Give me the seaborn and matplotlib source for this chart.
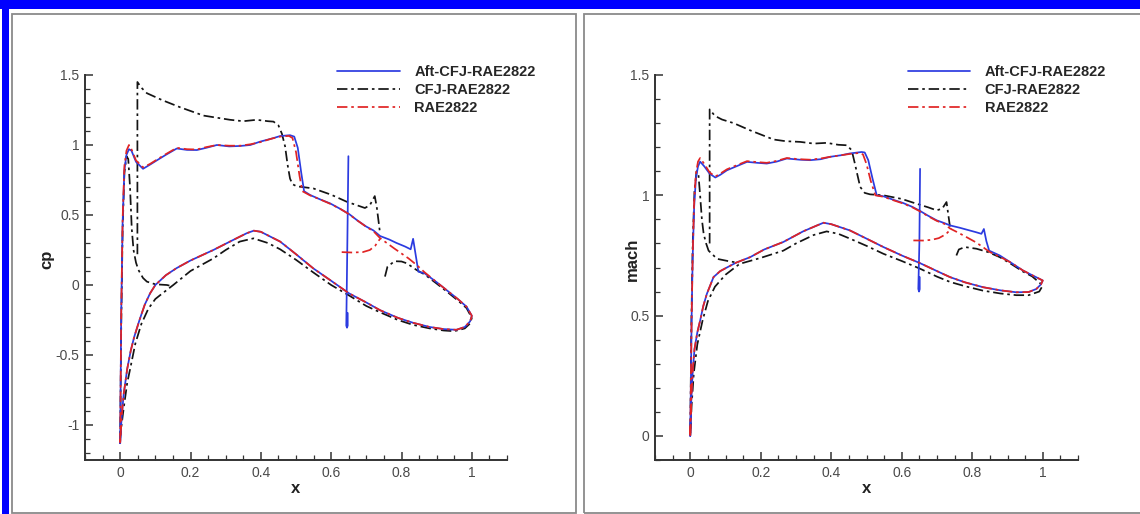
import matplotlib
matplotlib.use("Agg")
import matplotlib.pyplot as plt
from matplotlib.patches import Rectangle
from matplotlib.ticker import MultipleLocator, FuncFormatter
import pandas as pd
import seaborn as sns

sns.set_theme(style="white")
plt.rcParams["font.family"] = ["Liberation Sans", "DejaVu Sans"]
plt.rcParams["axes.unicode_minus"] = False

SERIES = ["Aft-CFJ-RAE2822", "CFJ-RAE2822", "RAE2822"]
DRAW_ORDER = ["CFJ-RAE2822", "Aft-CFJ-RAE2822", "RAE2822"]
PALETTE = {"Aft-CFJ-RAE2822": "#2b3be0", "CFJ-RAE2822": "#141414", "RAE2822": "#e02424"}
DASHES = {"Aft-CFJ-RAE2822": "", "CFJ-RAE2822": (6, 2.2, 1.5, 2.2), "RAE2822": (6, 2.2, 1.5, 2.2)}

# ---------------- pressure coefficient (left panel) ----------------
# Aft-CFJ: upper surface LE -> TE, then lower surface TE -> LE
AFT_CP_UP_X = [0.0, 0.003, 0.007, 0.012, 0.018, 0.025, 0.032, 0.045, 0.065, 0.085, 0.104, 0.13, 0.161,
               0.19, 0.218, 0.245, 0.275, 0.31, 0.341, 0.37, 0.398, 0.43, 0.455, 0.483, 0.495, 0.505,
               0.515, 0.523, 0.54, 0.57, 0.597, 0.625, 0.651, 0.675, 0.70, 0.72, 0.739, 0.765, 0.786,
               0.81, 0.826, 0.833, 0.84, 0.848, 0.866, 0.9, 0.928, 0.96, 0.985, 1.0]
AFT_CP_UP_Y = [-1.13, -0.2, 0.45, 0.82, 0.93, 0.97, 0.96, 0.88, 0.83, 0.86, 0.89, 0.93, 0.975,
               0.965, 0.964, 0.98, 1.0, 0.99, 0.993, 1.0, 1.024, 1.045, 1.064, 1.07, 1.06, 0.98,
               0.80, 0.67, 0.643, 0.61, 0.583, 0.545, 0.507, 0.46, 0.417, 0.39, 0.35, 0.325, 0.30,
               0.275, 0.255, 0.33, 0.22, 0.095, 0.083, 0.02, -0.036, -0.1, -0.155, -0.22]
LOW_CP_X = [1.0, 0.995, 0.98, 0.956, 0.92, 0.88, 0.833, 0.79, 0.739, 0.70, 0.651, 0.60, 0.549, 0.50,
            0.455, 0.40, 0.38, 0.36, 0.32, 0.265, 0.20, 0.16, 0.13, 0.10, 0.085, 0.07, 0.055, 0.04,
            0.03, 0.02, 0.01, 0.004, 0.0]
LOW_CP_Y = [-0.22, -0.26, -0.30, -0.32, -0.315, -0.30, -0.27, -0.235, -0.18, -0.125, -0.06, 0.03,
            0.119, 0.22, 0.31, 0.38, 0.388, 0.37, 0.32, 0.25, 0.175, 0.12, 0.07, 0.0, -0.06, -0.14,
            -0.25, -0.37, -0.47, -0.60, -0.78, -0.95, -1.13]
AFT_CP_SLOT_X = [0.649, 0.646, 0.643, 0.645, 0.647, 0.647]
AFT_CP_SLOT_Y = [0.92, 0.30, -0.29, -0.305, -0.29, -0.20]

# RAE2822 baseline
RAE_CP_UP_X = [0.0, 0.003, 0.007, 0.012, 0.018, 0.025, 0.032, 0.045, 0.065, 0.085, 0.104, 0.13, 0.161,
               0.19, 0.218, 0.245, 0.275, 0.31, 0.341, 0.37, 0.398, 0.43, 0.455, 0.48, 0.49, 0.50,
               0.51, 0.518, 0.54, 0.57, 0.597, 0.625, 0.651, 0.675, 0.70, 0.72, 0.739, 0.78, 0.82,
               0.843, 0.866, 0.9, 0.928, 0.96, 0.985, 1.0]
RAE_CP_UP_Y = [-1.13, -0.2, 0.47, 0.85, 0.96, 1.0, 0.97, 0.89, 0.84, 0.865, 0.895, 0.935, 0.98,
               0.97, 0.968, 0.985, 1.0, 0.995, 0.995, 1.005, 1.02, 1.045, 1.06, 1.065, 1.05, 0.95,
               0.78, 0.67, 0.64, 0.61, 0.58, 0.545, 0.505, 0.46, 0.415, 0.385, 0.335, 0.26, 0.19,
               0.143, 0.09, 0.02, -0.036, -0.1, -0.155, -0.22]
RAE_CP_BRANCH_X = [0.63, 0.66, 0.69, 0.71, 0.725, 0.739]
RAE_CP_BRANCH_Y = [0.235, 0.232, 0.235, 0.25, 0.28, 0.33]

# CFJ: jet injection and upper surface up to suction slot
CFJ_CP_A_X = [0.049, 0.049, 0.06, 0.076, 0.12, 0.17, 0.237, 0.3125, 0.35, 0.388, 0.42, 0.436, 0.45,
              0.46, 0.469, 0.476, 0.483, 0.49, 0.502, 0.549, 0.60, 0.644, 0.696, 0.71, 0.724, 0.73,
              0.735, 0.739]
CFJ_CP_A_Y = [0.22, 1.45, 1.41, 1.37, 1.32, 1.27, 1.21, 1.18, 1.17, 1.18, 1.17, 1.167, 1.14,
              1.08, 0.99, 0.86, 0.76, 0.72, 0.705, 0.69, 0.645, 0.595, 0.55, 0.57, 0.635, 0.55,
              0.45, 0.37]
# CFJ: aft of suction slot, lower surface, leading edge and injection lip
CFJ_CP_B_X = [0.753, 0.76, 0.78, 0.80, 0.815, 0.843, 0.866, 0.9, 0.928, 0.96, 0.985, 1.0, 0.995,
              0.98, 0.95, 0.92, 0.88, 0.833, 0.79, 0.739, 0.70, 0.651, 0.60, 0.549, 0.50, 0.455,
              0.42, 0.379, 0.34, 0.30, 0.265, 0.20, 0.151, 0.12, 0.10, 0.08, 0.06, 0.043, 0.03,
              0.02, 0.01, 0.004, 0.0, 0.003, 0.007, 0.012, 0.018, 0.023, 0.028, 0.033, 0.038,
              0.045, 0.052, 0.065, 0.076, 0.10, 0.133, 0.15]
CFJ_CP_B_Y = [0.06, 0.13, 0.17, 0.168, 0.155, 0.107, 0.075, 0.01, -0.045, -0.11, -0.165, -0.235,
              -0.275, -0.31, -0.33, -0.325, -0.31, -0.285, -0.25, -0.195, -0.15, -0.075, 0.0, 0.09,
              0.18, 0.255, 0.30, 0.333, 0.31, 0.25, 0.19, 0.10, 0.0, -0.06, -0.10, -0.17, -0.28,
              -0.42, -0.58, -0.70, -0.88, -1.0, -1.1, -0.3, 0.4, 0.8, 0.92, 0.90, 0.70, 0.40, 0.25,
              0.16, 0.107, 0.05, 0.024, 0.005, 0.0, -0.01]

# ---------------- Mach number (right panel) ----------------
AFT_M_UP_X = [0.0, 0.002, 0.004, 0.007, 0.011, 0.016, 0.022, 0.028, 0.04, 0.055, 0.071, 0.085, 0.104,
              0.13, 0.161, 0.19, 0.217, 0.245, 0.274, 0.31, 0.34, 0.37, 0.397, 0.43, 0.453, 0.486,
              0.495, 0.505, 0.517, 0.529, 0.548, 0.575, 0.604, 0.63, 0.652, 0.675, 0.699, 0.72,
              0.737, 0.765, 0.79, 0.81, 0.826, 0.833, 0.84, 0.848, 0.878, 0.91, 0.944, 0.97, 1.0]
AFT_M_UP_Y = [0.0, 0.25, 0.5, 0.75, 0.95, 1.07, 1.12, 1.14, 1.12, 1.09, 1.074, 1.085, 1.104,
              1.12, 1.139, 1.135, 1.132, 1.14, 1.153, 1.148, 1.146, 1.15, 1.16, 1.167, 1.174, 1.18,
              1.178, 1.146, 1.07, 1.0, 0.996, 0.982, 0.968, 0.952, 0.935, 0.915, 0.896, 0.885,
              0.875, 0.865, 0.855, 0.847, 0.84, 0.86, 0.81, 0.77, 0.75, 0.72, 0.6875, 0.668, 0.646]
LOW_M_X = [1.0, 0.995, 0.982, 0.96, 0.925, 0.88, 0.831, 0.78, 0.737, 0.70, 0.652, 0.60, 0.548, 0.50,
           0.453, 0.40, 0.378, 0.36, 0.32, 0.264, 0.21, 0.17, 0.13, 0.104, 0.085, 0.066, 0.047,
           0.037, 0.028, 0.02, 0.012, 0.007, 0.003, 0.0]
LOW_M_Y = [0.646, 0.63, 0.611, 0.598, 0.597, 0.605, 0.618, 0.638, 0.66, 0.685, 0.718, 0.75, 0.785,
           0.82, 0.854, 0.88, 0.886, 0.875, 0.85, 0.806, 0.775, 0.743, 0.72, 0.70, 0.685, 0.66,
           0.59, 0.54, 0.479, 0.43, 0.36, 0.27, 0.15, 0.0]
AFT_M_SLOT_X = [0.652, 0.650, 0.647, 0.649, 0.651, 0.651]
AFT_M_SLOT_Y = [1.11, 0.80, 0.611, 0.60, 0.61, 0.66]

RAE_M_UP_X = [0.0, 0.002, 0.004, 0.007, 0.011, 0.016, 0.022, 0.028, 0.04, 0.055, 0.071, 0.085, 0.104,
              0.13, 0.161, 0.19, 0.217, 0.245, 0.274, 0.31, 0.34, 0.37, 0.397, 0.43, 0.453, 0.48,
              0.49, 0.50, 0.512, 0.525, 0.548, 0.575, 0.604, 0.63, 0.652, 0.675, 0.699, 0.72,
              0.737, 0.76, 0.784, 0.81, 0.83, 0.85, 0.878, 0.91, 0.944, 0.97, 1.0]
RAE_M_UP_Y = [0.0, 0.25, 0.5, 0.76, 0.97, 1.09, 1.14, 1.155, 1.13, 1.095, 1.078, 1.09, 1.108,
              1.124, 1.142, 1.138, 1.135, 1.143, 1.155, 1.15, 1.148, 1.153, 1.16, 1.167, 1.172, 1.176,
              1.17, 1.13, 1.06, 1.0, 0.994, 0.98, 0.966, 0.95, 0.933, 0.913, 0.894, 0.882,
              0.862, 0.845, 0.826, 0.805, 0.785, 0.764, 0.745, 0.72, 0.6875, 0.668, 0.646]
RAE_M_BRANCH_X = [0.633, 0.66, 0.685, 0.705, 0.725, 0.741]
RAE_M_BRANCH_Y = [0.8125, 0.812, 0.815, 0.822, 0.838, 0.862]

CFJ_M_A_X = [0.055, 0.055, 0.07, 0.09, 0.123, 0.17, 0.236, 0.27, 0.312, 0.35, 0.387, 0.42, 0.444,
             0.458, 0.467, 0.475, 0.482, 0.495, 0.51, 0.548, 0.60, 0.642, 0.675, 0.699, 0.715,
             0.727, 0.732, 0.737]
CFJ_M_A_Y = [0.80, 1.357, 1.33, 1.315, 1.30, 1.27, 1.232, 1.225, 1.222, 1.215, 1.218, 1.21, 1.208,
             1.1875, 1.132, 1.08, 1.035, 1.01, 1.004, 1.0, 0.985, 0.965, 0.95, 0.9375, 0.945,
             0.972, 0.92, 0.868]
CFJ_M_B_X = [0.755, 0.762, 0.779, 0.812, 0.845, 0.878, 0.91, 0.944, 0.97, 1.0, 0.99, 0.96, 0.925,
             0.88, 0.83, 0.78, 0.737, 0.70, 0.652, 0.60, 0.548, 0.50, 0.453, 0.42, 0.387, 0.35,
             0.30, 0.264, 0.20, 0.14, 0.10, 0.07, 0.05, 0.035, 0.02, 0.01, 0.004, 0.0, 0.003,
             0.007, 0.012, 0.018, 0.023, 0.028, 0.033, 0.038, 0.045, 0.052, 0.076, 0.113, 0.137]
CFJ_M_B_Y = [0.75, 0.775, 0.785, 0.778, 0.764, 0.743, 0.715, 0.683, 0.663, 0.625, 0.60, 0.585,
             0.585, 0.592, 0.604, 0.622, 0.64, 0.662, 0.695, 0.727, 0.757, 0.79, 0.82, 0.84, 0.85,
             0.835, 0.80, 0.77, 0.74, 0.715, 0.67, 0.62, 0.56, 0.48, 0.38, 0.26, 0.13, 0.0, 0.45,
             0.80, 1.02, 1.10, 1.09, 1.0, 0.90, 0.84, 0.80, 0.77, 0.736, 0.725, 0.72]

CP_SEGMENTS = [
    ("CFJ-RAE2822", CFJ_CP_A_X, CFJ_CP_A_Y),
    ("CFJ-RAE2822", CFJ_CP_B_X, CFJ_CP_B_Y),
    ("Aft-CFJ-RAE2822", AFT_CP_UP_X + LOW_CP_X, AFT_CP_UP_Y + LOW_CP_Y),
    ("Aft-CFJ-RAE2822", AFT_CP_SLOT_X, AFT_CP_SLOT_Y),
    ("RAE2822", RAE_CP_UP_X + LOW_CP_X, RAE_CP_UP_Y + LOW_CP_Y),
    ("RAE2822", RAE_CP_BRANCH_X, RAE_CP_BRANCH_Y),
]
M_SEGMENTS = [
    ("CFJ-RAE2822", CFJ_M_A_X, CFJ_M_A_Y),
    ("CFJ-RAE2822", CFJ_M_B_X, CFJ_M_B_Y),
    ("Aft-CFJ-RAE2822", AFT_M_UP_X + LOW_M_X, AFT_M_UP_Y + LOW_M_Y),
    ("Aft-CFJ-RAE2822", AFT_M_SLOT_X, AFT_M_SLOT_Y),
    ("RAE2822", RAE_M_UP_X + LOW_M_X, RAE_M_UP_Y + LOW_M_Y),
    ("RAE2822", RAE_M_BRANCH_X, RAE_M_BRANCH_Y),
]


def to_frame(segments):
    rows = []
    for seg_id, (name, xs, ys) in enumerate(segments):
        for i, (xv, yv) in enumerate(zip(xs, ys)):
            rows.append({"x": xv, "y": yv, "series": name, "seg": seg_id, "order": i})
    return pd.DataFrame(rows)


W, H = 1140, 514
fig = plt.figure(figsize=(W / 100, H / 100), dpi=100)
fig.patch.set_facecolor("white")


def px_rect(x0, y0, x1, y1, **kw):
    """Rectangle given in top-down pixel coordinates."""
    return Rectangle((x0 / W, 1 - y1 / H), (x1 - x0) / W, (y1 - y0) / H,
                     transform=fig.transFigure, **kw)


# page frame and panel borders
fig.patches.append(px_rect(0, 0, W, 9, facecolor="#0000ff", edgecolor="none"))
fig.patches.append(px_rect(2, 0, 9, H, facecolor="#0000ff", edgecolor="none"))
fig.patches.append(px_rect(12, 14, 576, 513, facecolor="none", edgecolor="#8a8a8a", linewidth=1.3))
fig.patches.append(px_rect(584, 14, 1142, 513, facecolor="none", edgecolor="#8a8a8a", linewidth=1.3))

AX_BOTTOM, AX_TOP = 460, 75


def make_axes(x0_px, x1_px):
    return fig.add_axes([x0_px / W, 1 - AX_BOTTOM / H, (x1_px - x0_px) / W, (AX_BOTTOM - AX_TOP) / H])


fmt = FuncFormatter(lambda v, p: f"{v:g}")


def draw_panel(ax, segments, ylim, ymajor, ylabel, ylabel_x):
    df = to_frame(segments)
    sns.lineplot(data=df, x="x", y="y", hue="series", style="series", units="seg",
                 estimator=None, sort=False, hue_order=DRAW_ORDER, style_order=DRAW_ORDER,
                 palette=PALETTE, dashes=DASHES, linewidth=1.25, ax=ax)
    ax.set_xlim(-0.1, 1.1)
    ax.set_ylim(*ylim)
    for side in ("top", "right"):
        ax.spines[side].set_visible(False)
    for side in ("left", "bottom"):
        ax.spines[side].set_color("#333333")
        ax.spines[side].set_linewidth(1.4)
    ax.xaxis.set_major_locator(MultipleLocator(0.2))
    ax.xaxis.set_minor_locator(MultipleLocator(0.05))
    ax.yaxis.set_major_locator(MultipleLocator(ymajor))
    ax.yaxis.set_minor_locator(MultipleLocator(0.1))
    ax.xaxis.set_major_formatter(fmt)
    ax.yaxis.set_major_formatter(fmt)
    ax.tick_params(which="both", direction="in", colors="#333333", labelcolor="#4a4a4a",
                   labelsize=10, bottom=True, left=True, top=False, right=False)
    ax.tick_params(which="major", length=5.8, width=1.1, pad=4)
    ax.tick_params(which="minor", length=3.4, width=0.9)
    ax.set_xlabel("x", fontsize=12, fontweight="bold", color="#222222", labelpad=1)
    ax.set_ylabel(ylabel, fontsize=12, fontweight="bold", color="#222222")
    ax.yaxis.set_label_coords(ylabel_x, 0.52)
    ax.set_facecolor("none")

    handles, labels = ax.get_legend_handles_labels()
    lookup = dict(zip(labels, handles))
    ax.legend([lookup[s] for s in SERIES], SERIES, loc="upper left",
              bbox_to_anchor=(0.597, 1.026), frameon=False, borderpad=0, borderaxespad=0,
              handlelength=4.3, handletextpad=1.0, labelspacing=0.28,
              prop={"weight": "bold", "size": 10.5})


ax_cp = make_axes(85, 507)
draw_panel(ax_cp, CP_SEGMENTS, (-1.25, 1.5), 0.5, "cp", -0.072)

ax_m = make_axes(655, 1078)
draw_panel(ax_m, M_SEGMENTS, (-0.1, 1.5), 0.5, "mach", -0.035)

fig.savefig("out.png", dpi=100, facecolor="white")
